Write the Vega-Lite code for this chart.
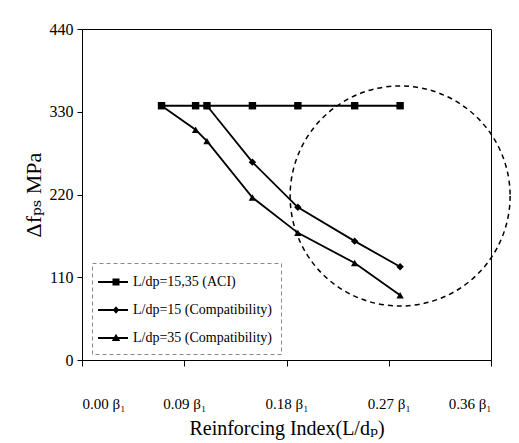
{
  "$schema": "https://vega.github.io/schema/vega-lite/v6.json",
  "width": 409,
  "height": 331,
  "autosize": {"type": "none"},
  "padding": {"left": 82, "top": 29, "right": 28, "bottom": 83},
  "background": "white",
  "config": {
    "view": {"stroke": "black", "strokeWidth": 1},
    "font": "Liberation Serif, Times New Roman, DejaVu Serif, serif",
    "axis": {"grid": false, "domainColor": "black", "tickColor": "black", "labelColor": "black", "titleColor": "black", "labelFont": "Liberation Serif, Times New Roman, DejaVu Serif, serif", "titleFont": "Liberation Serif, Times New Roman, DejaVu Serif, serif", "titleFontWeight": "normal"},
    "legend": {"labelFont": "Liberation Serif, Times New Roman, DejaVu Serif, serif"}
  },
  "datasets": {
    "series": [
      {"series": "L/dp=15,35 (ACI)", "x": 0.07, "y": 338},
      {"series": "L/dp=15,35 (ACI)", "x": 0.10, "y": 338},
      {"series": "L/dp=15,35 (ACI)", "x": 0.11, "y": 338},
      {"series": "L/dp=15,35 (ACI)", "x": 0.15, "y": 338},
      {"series": "L/dp=15,35 (ACI)", "x": 0.19, "y": 338},
      {"series": "L/dp=15,35 (ACI)", "x": 0.24, "y": 338},
      {"series": "L/dp=15,35 (ACI)", "x": 0.28, "y": 338},
      {"series": "L/dp=15 (Compatibility)", "x": 0.11, "y": 338},
      {"series": "L/dp=15 (Compatibility)", "x": 0.15, "y": 263},
      {"series": "L/dp=15 (Compatibility)", "x": 0.19, "y": 203},
      {"series": "L/dp=15 (Compatibility)", "x": 0.24, "y": 158},
      {"series": "L/dp=15 (Compatibility)", "x": 0.28, "y": 124},
      {"series": "L/dp=35 (Compatibility)", "x": 0.07, "y": 338},
      {"series": "L/dp=35 (Compatibility)", "x": 0.10, "y": 306},
      {"series": "L/dp=35 (Compatibility)", "x": 0.11, "y": 291},
      {"series": "L/dp=35 (Compatibility)", "x": 0.15, "y": 216},
      {"series": "L/dp=35 (Compatibility)", "x": 0.19, "y": 169},
      {"series": "L/dp=35 (Compatibility)", "x": 0.24, "y": 129},
      {"series": "L/dp=35 (Compatibility)", "x": 0.28, "y": 86}
    ],
    "circle": [{"x": 0.280, "y": 218}]
  },
  "layer": [
    {
      "data": {"name": "series"},
      "mark": {"type": "line", "color": "black", "strokeWidth": 1.8},
      "encoding": {
        "x": {"field": "x", "type": "quantitative", "scale": {"domain": [0, 0.36], "nice": false, "zero": false},
          "axis": {"values": [0, 0.09, 0.18, 0.27, 0.36], "labelExpr": "format(datum.value, '.2f') + ' β₁'", "labelFontSize": 15, "labelPadding": 30, "tickSize": 6, "title": "Reinforcing Index(L/dₚ)", "titleFontSize": 20, "titlePadding": 7}},
        "y": {"field": "y", "type": "quantitative", "scale": {"domain": [0, 440], "nice": false},
          "axis": {"values": [0, 110, 220, 330, 440], "labelFontSize": 16, "labelPadding": 4, "tickSize": 5, "title": "Δfₚₛ MPa", "titleFontSize": 22, "titlePadding": 4}},
        "detail": {"field": "series"}
      }
    },
    {
      "data": {"name": "series"},
      "mark": {"type": "point", "filled": true, "color": "black", "opacity": 1},
      "encoding": {
        "x": {"field": "x", "type": "quantitative"},
        "y": {"field": "y", "type": "quantitative"},
        "shape": {"field": "series", "type": "nominal",
          "scale": {"domain": ["L/dp=15,35 (ACI)", "L/dp=15 (Compatibility)", "L/dp=35 (Compatibility)"], "range": ["square", "diamond", "triangle-up"]},
          "legend": null
        },
        "size": {"value": 55}
      }
    },
    {
      "data": {"name": "series"},
      "mark": {"type": "point", "filled": true, "color": "black", "size": 0},
      "encoding": {
        "x": {"field": "x", "type": "quantitative"},
        "y": {"field": "y", "type": "quantitative"},
        "shape": {"field": "series", "type": "nominal",
          "scale": {"domain": ["L/dp=15,35 (ACI)", "L/dp=15 (Compatibility)", "L/dp=35 (Compatibility)"],
            "range": ["M-1.3,-0.09L1.7,-0.09L1.7,0.09L-1.3,0.09Z M0.15,-0.35L0.85,-0.35L0.85,0.35L0.15,0.35Z", "M-1.3,-0.09L1.7,-0.09L1.7,0.09L-1.3,0.09Z M0.5,-0.38L0.82,0L0.5,0.38L0.18,0Z", "M-1.3,-0.09L1.7,-0.09L1.7,0.09L-1.3,0.09Z M0.5,-0.42L0.92,0.3L0.08,0.3Z"]},
          "legend": {"title": null, "orient": "none", "legendX": 10, "legendY": 234, "labelFontSize": 14, "labelColor": "black", "labelOffset": 12, "rowPadding": 11, "symbolSize": 400, "symbolFillColor": "black", "symbolStrokeWidth": 0, "symbolOpacity": 1, "padding": 9, "strokeColor": "#888888",
            "encoding": {"legend": {"strokeDash": {"value": [4, 3]}}}
          }
        }
      }
    },
    {
      "data": {"name": "circle"},
      "mark": {"type": "point", "shape": "circle", "filled": false, "stroke": "black", "opacity": 1, "strokeWidth": 1.5, "strokeDash": [5, 4], "size": 48400, "clip": false},
      "encoding": {
        "x": {"field": "x", "type": "quantitative"},
        "y": {"field": "y", "type": "quantitative"}
      }
    }
  ],
  "resolve": {"scale": {"shape": "independent"}, "legend": {"shape": "independent"}}
}
